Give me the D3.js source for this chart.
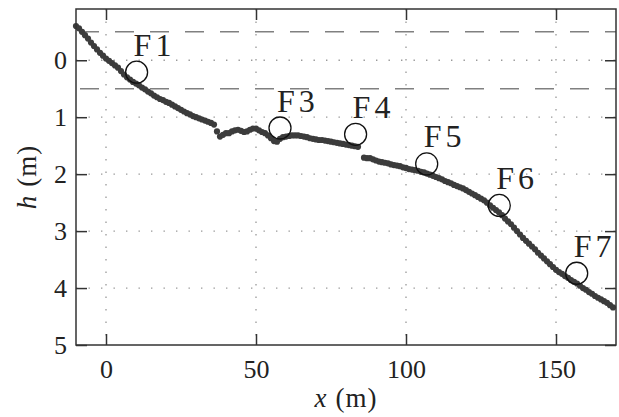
<!DOCTYPE html>
<html>
<head>
<meta charset="utf-8">
<script src="https://cdn.jsdelivr.net/npm/d3@7"></script>
<style>
  body { margin: 0; background: #fff; }
</style>
</head>
<body>
<div id="my_dataviz"></div>
<script>
// profile points (x in m, h in m), 1 m apart
var profileX = [];
var profileH = [
    -0.60, -0.56, -0.50, -0.44, -0.38, -0.31, -0.25, -0.19, -0.13, -0.08,   // -10 .. -1
    -0.03, 0.01, 0.05, 0.09, 0.13, 0.19, 0.25, 0.30, 0.34, 0.38,            // 0 .. 9
    0.41, 0.44, 0.48, 0.51, 0.55, 0.58, 0.62, 0.65, 0.68, 0.70,             // 10 .. 19
    0.73, 0.75, 0.78, 0.81, 0.84, 0.87, 0.90, 0.93, 0.95, 0.98,             // 20 .. 29
    1.00, 1.02, 1.04, 1.06, 1.08, 1.10, 1.13, 1.25, 1.34, 1.31,             // 30 .. 39
    1.28, 1.28, 1.25, 1.23, 1.22, 1.24, 1.26, 1.25, 1.22, 1.20,             // 40 .. 49
    1.20, 1.23, 1.26, 1.28, 1.32, 1.37, 1.42, 1.43, 1.38, 1.35,             // 50 .. 59
    1.34, 1.33, 1.32, 1.32, 1.32, 1.33, 1.34, 1.35, 1.37, 1.38,             // 60 .. 69
    1.39, 1.40, 1.40, 1.41, 1.42, 1.43, 1.44, 1.45, 1.46, 1.47,             // 70 .. 79
    1.48, 1.49, 1.50, 1.51, 1.52, null, 1.71, 1.72, 1.72, 1.74,             // 80 .. 89
    1.76, 1.78, 1.79, 1.80, 1.81, 1.83, 1.84, 1.85, 1.86, 1.88,             // 90 .. 99
    1.89, 1.91, 1.92, 1.93, 1.94, 1.96, 1.97, 1.99, 2.01, 2.03,             // 100 .. 109
    2.05, 2.07, 2.09, 2.12, 2.14, 2.16, 2.19, 2.21, 2.23, 2.25,             // 110 .. 119
    2.28, 2.31, 2.34, 2.37, 2.40, 2.43, 2.46, 2.50, 2.55, 2.59,             // 120 .. 129
    2.63, 2.67, 2.72, 2.78, 2.83, 2.88, 2.94, 3.00, 3.06, 3.12,             // 130 .. 139
    3.17, 3.22, 3.27, 3.32, 3.38, 3.43, 3.48, 3.53, 3.58, 3.63,             // 140 .. 149
    3.68, 3.72, 3.75, 3.79, 3.82, 3.86, 3.89, 3.92, 3.96, 4.00,             // 150 .. 159
    4.03, 4.07, 4.10, 4.14, 4.17, 4.20, 4.23, 4.26, 4.30, 4.34              // 160 .. 169
];
for (var i = 0; i < profileH.length; i++) profileX.push(-10 + i);

// marked stations
var stationNames = ["F1", "F3", "F4", "F5", "F6", "F7"];
var stationX = [10.2, 58, 83.2, 106.9, 131.1, 156.9];
var stationH = [0.21, 1.19, 1.30, 1.82, 2.55, 3.74];

var xTicks = [0, 50, 100, 150];
var yTicks = [0, 1, 2, 3, 4, 5];
var dashedLevels = [-0.5, 0.5];

var serif = "'Liberation Serif'";

// set the dimensions and margins of the graph
var margin = { top: 9, right: 3, bottom: 72, left: 76 },
    width = 619 - margin.left - margin.right,
    height = 417 - margin.top - margin.bottom;

var svg = d3.select("#my_dataviz")
    .append("svg")
    .attr("width", 619)
    .attr("height", 417)
    .append("g")
    .attr("transform", "translate(" + margin.left + "," + margin.top + ")");

var x = d3.scaleLinear().domain([-10, 170]).range([0, width]);
var y = d3.scaleLinear().domain([-0.9, 5]).range([0, height]);

// dotted grid
svg.append("g")
    .selectAll("line")
    .data(xTicks)
    .enter()
    .append("line")
    .attr("x1", d => x(d)).attr("x2", d => x(d))
    .attr("y1", 0).attr("y2", height)
    .attr("stroke", "#999")
    .attr("stroke-width", 1.3)
    .attr("stroke-dasharray", "1.4,11.1");

svg.append("g")
    .selectAll("line")
    .data(yTicks.slice(0, 5))
    .enter()
    .append("line")
    .attr("x1", 0).attr("x2", width)
    .attr("y1", d => y(d)).attr("y2", d => y(d))
    .attr("stroke", "#999")
    .attr("stroke-width", 1.3)
    .attr("stroke-dasharray", "1.4,11.1");

// dashed levels
svg.append("g")
    .selectAll("line")
    .data(dashedLevels)
    .enter()
    .append("line")
    .attr("x1", 0).attr("x2", width)
    .attr("y1", d => y(d)).attr("y2", d => y(d))
    .attr("stroke", "#808080")
    .attr("stroke-width", 1.5)
    .attr("stroke-dasharray", "19,16")
    .attr("stroke-dashoffset", -4);

// profile dots
var pts = profileX.map((d, i) => ({ x: d, h: profileH[i] })).filter(d => d.h !== null);
svg.append("g")
    .selectAll("circle")
    .data(pts)
    .enter()
    .append("circle")
    .attr("cx", d => x(d.x))
    .attr("cy", d => y(d.h))
    .attr("r", 3.1)
    .style("fill", "#3c3c3c");

// station circles + labels
var st = svg.append("g")
    .selectAll("g")
    .data(stationNames)
    .enter()
    .append("g")
    .attr("transform", (d, i) => "translate(" + x(stationX[i]) + "," + y(stationH[i]) + ")");
st.append("circle")
    .attr("r", 11)
    .attr("fill", "none")
    .attr("stroke", "#111")
    .attr("stroke-width", 1.3);
st.append("text")
    .attr("x", -3)
    .attr("y", -16.5)
    .style("font-family", serif)
    .style("font-size", "32px")
    .style("letter-spacing", "4px")
    .style("fill", "#222")
    .text(d => d);

// frame with inward ticks on all four sides
svg.append("rect")
    .attr("width", width).attr("height", height)
    .attr("fill", "none")
    .attr("stroke", "#333")
    .attr("stroke-width", 1.5);

var fmt = d3.format("d");
svg.append("g")
    .attr("transform", "translate(0," + height + ")")
    .call(d3.axisBottom(x).tickValues(xTicks).tickFormat(fmt).tickSizeInner(-11).tickSizeOuter(0).tickPadding(14.5))
    .call(g => g.select(".domain").remove());
svg.append("g")
    .call(d3.axisTop(x).tickValues(xTicks).tickSizeInner(-11).tickSizeOuter(0).tickFormat(""))
    .call(g => g.select(".domain").remove());
svg.append("g")
    .call(d3.axisLeft(y).tickValues(yTicks).tickFormat(fmt).tickSizeInner(-11).tickSizeOuter(0).tickPadding(9))
    .call(g => g.select(".domain").remove());
svg.append("g")
    .attr("transform", "translate(" + width + ",0)")
    .call(d3.axisRight(y).tickValues(yTicks).tickSizeInner(-11).tickSizeOuter(0).tickFormat(""))
    .call(g => g.select(".domain").remove());

svg.selectAll(".tick line").attr("stroke", "#333").attr("stroke-width", 1.5);
svg.selectAll(".tick text")
    .attr("font-family", serif)
    .style("font-family", serif)
    .style("font-size", "26px")
    .style("fill", "#222");

// axis labels
var xl = svg.append("text")
    .attr("x", width / 2)
    .attr("y", 398)
    .attr("text-anchor", "middle")
    .style("font-family", serif)
    .style("font-size", "27px")
    .style("fill", "#222");
xl.append("tspan").style("font-style", "italic").text("x");
xl.append("tspan").attr("dx", 9).style("letter-spacing", "1px").text("(m)");

var yl = svg.append("text")
    .attr("transform", "translate(" + (-40) + "," + (height / 2) + ") rotate(-90)")
    .attr("text-anchor", "middle")
    .style("font-family", serif)
    .style("font-size", "27px")
    .style("fill", "#222");
yl.append("tspan").style("font-style", "italic").text("h");
yl.append("tspan").attr("dx", 9).style("letter-spacing", "1px").text("(m)");
</script>
</body>
</html>
